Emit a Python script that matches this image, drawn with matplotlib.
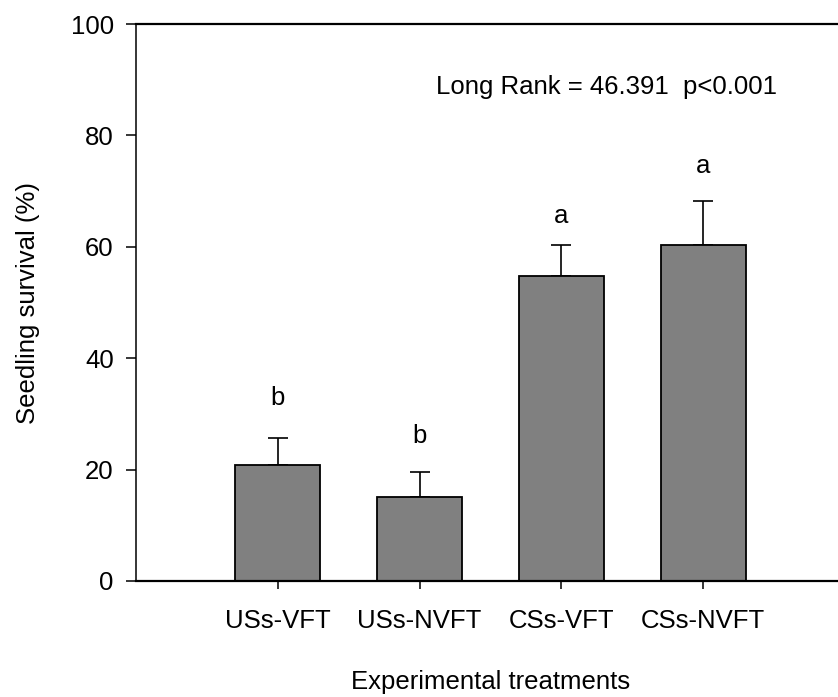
import matplotlib
matplotlib.use("Agg")
import matplotlib.pyplot as plt

treatments = ["USs-VFT", "USs-NVFT", "CSs-VFT", "CSs-NVFT"]
survival = [20.8, 15.0, 54.7, 60.4]
survival_se = [4.8, 4.6, 5.7, 7.9]
letters = ["b", "b", "a", "a"]
letter_y = [31.6, 24.7, 64.2, 73.3]
yticks = [0, 20, 40, 60, 80, 100]

plt.rcParams["font.family"] = ["Liberation Sans", "DejaVu Sans"]
plt.rcParams["font.size"] = 18.5

fig = plt.figure(figsize=(8.38, 6.97), dpi=100)
# right part of the frame runs past the edge of the image, as in the original
ax = fig.add_axes([136 / 838, 116 / 697, 709 / 838, 557 / 697])

x = [i + 1 for i in range(len(treatments))]
ax.bar(x, survival, width=0.6, color="#808080", edgecolor="black", linewidth=1.3, zorder=2)
ax.errorbar(x, survival, yerr=[[0] * len(survival), survival_se], fmt="none",
            ecolor="black", elinewidth=1.2, capsize=7, capthick=1.2, zorder=1)

for xi, lab, ly in zip(x, letters, letter_y):
    ax.text(xi, ly, lab, ha="center", va="baseline")

ax.text(2.115, 87.5, "Long Rank = 46.391  p<0.001", ha="left", va="baseline")

ax.set_xlim(0, 5)
ax.set_ylim(0, 100)
ax.set_xticks(x)
ax.set_xticklabels(treatments)
ax.set_yticks(yticks)
ax.set_xlabel("Experimental treatments", labelpad=27)
ax.set_ylabel("Seedling survival (%)", labelpad=22)

ax.spines["right"].set_visible(False)
ax.spines["left"].set_linewidth(1.1)
ax.spines["top"].set_linewidth(1.6)
ax.spines["bottom"].set_linewidth(1.6)
ax.tick_params(axis="y", length=7, width=1.1, pad=9)
ax.tick_params(axis="x", length=6, width=1.1, pad=14)

fig.savefig("out.png", dpi=100)
